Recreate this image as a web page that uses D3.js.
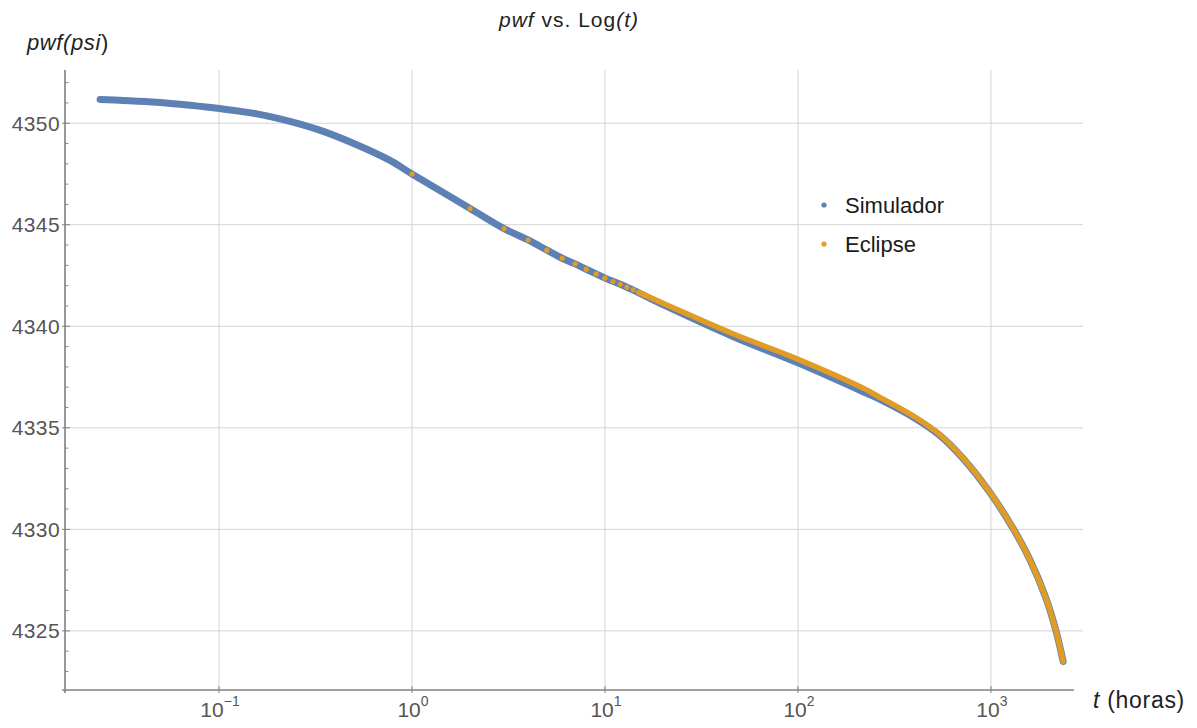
<!DOCTYPE html>
<html>
<head>
<meta charset="utf-8">
<script src="https://cdn.jsdelivr.net/npm/d3@7"></script>
<style>
  html, body { margin: 0; padding: 0; background: #fff; }
  svg { display: block; font-family: "Liberation Sans", Arial, sans-serif; }
</style>
</head>
<body>
<svg id="chart" width="1197" height="728"></svg>
<script>
// ---- data ----
const simT = [0.0242, 0.0319, 0.0476, 0.0708, 0.1004, 0.157, 0.233, 0.347, 0.517, 0.769,
              1, 2, 3, 4, 5, 6, 7, 8, 9, 10, 12, 14, 20.9, 46, 100, 227, 266, 396, 544, 718,
              1000, 1303, 1592, 1942, 2188, 2367];
const simP = [4351.17, 4351.12, 4351.03, 4350.88, 4350.72, 4350.46, 4350.09, 4349.60, 4348.94, 4348.17,
              4347.50, 4345.80, 4344.81, 4344.25, 4343.75, 4343.35, 4343.07, 4342.81, 4342.58, 4342.37, 4342.07, 4341.78, 4340.98, 4339.50, 4338.20, 4336.70, 4336.40, 4335.52, 4334.62, 4333.48,
              4331.74, 4330.04, 4328.50, 4326.53, 4324.89, 4323.49];

const eclDotT = [1, 2, 3, 4, 5, 6, 7, 8, 9, 10, 11, 12, 13, 14, 15, 16, 17, 18, 19];
const eclDotP = [4347.50, 4345.80, 4344.81, 4344.25, 4343.75, 4343.35, 4343.07, 4342.81, 4342.58, 4342.37,
                 4342.20, 4342.07, 4341.93, 4341.80, 4341.66, 4341.54, 4341.43, 4341.33, 4341.23];
const eclLineT = [15, 20.9, 46, 100, 227, 266, 396, 544, 718, 1000, 1303, 1592, 1942, 2188, 2367];
const eclLineP = [4341.66, 4341.05, 4339.63, 4338.38, 4336.87, 4336.50, 4335.58, 4334.66, 4333.50,
                  4331.75, 4330.05, 4328.50, 4326.53, 4324.89, 4323.50];

const xTickVals = [0.1, 1, 10, 100, 1000];
const xTickExp  = ["\u22121", "0", "1", "2", "3"];
const yTickVals = [4325, 4330, 4335, 4340, 4345, 4350];
const yMinorVals = d3.range(4323, 4353, 1);
const seriesNames = ["Simulador", "Eclipse"];
const seriesColors = ["#5E81B5", "#E19C24"];

// ---- layout ----
const svg = d3.select("#chart");
const pLeft = 65, pRight = 1083, pTop = 70, pBottom = 690;
const x = d3.scaleLog().domain([0.01592, 2999]).range([pLeft, pRight]);
const y = d3.scaleLinear().domain([4322.09, 4352.62]).range([pBottom, pTop]);

// gridlines
const grid = svg.append("g").attr("stroke", "#d3d3d3").attr("stroke-width", 1);
grid.selectAll("line.v").data(xTickVals).join("line")
  .attr("x1", d => x(d)).attr("x2", d => x(d)).attr("y1", pTop).attr("y2", pBottom);
grid.selectAll("line.h").data(yTickVals).join("line")
  .attr("x1", pLeft).attr("x2", pRight).attr("y1", d => y(d)).attr("y2", d => y(d));

// axes
const axCol = "#808080";
const ax = svg.append("g").attr("stroke", axCol);
ax.append("line").attr("x1", pLeft - 3).attr("x2", 1074).attr("y1", pBottom).attr("y2", pBottom).attr("stroke-width", 1.6);
ax.append("line").attr("x1", pLeft).attr("x2", pLeft).attr("y1", pTop).attr("y2", pBottom + 3).attr("stroke-width", 1.6);
ax.selectAll("line.xt").data(xTickVals).join("line")
  .attr("x1", d => x(d)).attr("x2", d => x(d)).attr("y1", pBottom - 4).attr("y2", pBottom + 3).attr("stroke-width", 1);
ax.selectAll("line.yt").data(yTickVals).join("line")
  .attr("x1", pLeft - 3).attr("x2", pLeft + 5).attr("y1", d => y(d)).attr("y2", d => y(d)).attr("stroke-width", 1);
ax.selectAll("line.ym").data(yMinorVals.filter(v => v % 5 !== 0)).join("line")
  .attr("x1", pLeft).attr("x2", pLeft + 3.5).attr("y1", d => y(d)).attr("y2", d => y(d)).attr("stroke-width", 0.9);

// tick labels
svg.append("g").selectAll("text").data(yTickVals).join("text")
  .attr("x", pLeft - 5).attr("y", d => y(d)).attr("dy", "0.36em")
  .attr("text-anchor", "end").attr("font-size", 21).attr("letter-spacing", 0.4).attr("fill", "#555")
  .text(d => d);
const xl = svg.append("g").selectAll("text").data(xTickVals).join("text")
  .attr("x", (d, i) => x(d) + 1).attr("y", 717)
  .attr("text-anchor", "middle").attr("font-size", 21).attr("fill", "#555");
xl.append("tspan").text("10");
xl.append("tspan").attr("dy", -11).attr("font-size", 14).text((d, i) => xTickExp[i]);

// axis labels and title
const yl = svg.append("text").attr("x", 27).attr("y", 50).attr("font-size", 22)
  .attr("letter-spacing", 0.6).attr("fill", "#222");
yl.append("tspan").attr("font-style", "italic").text("pwf(psi");
yl.append("tspan").text(")");

const xlab = svg.append("text").attr("x", 1093).attr("y", 708).attr("font-size", 23)
  .attr("letter-spacing", 0.7).attr("fill", "#222");
xlab.append("tspan").attr("font-style", "italic").text("t");
xlab.append("tspan").text(" (horas)");

const title = svg.append("text").attr("x", 569).attr("y", 27).attr("text-anchor", "middle")
  .attr("font-size", 21).attr("letter-spacing", 1).attr("fill", "#222");
title.append("tspan").attr("font-style", "italic").text("pwf");
title.append("tspan").text(" vs. Log");
title.append("tspan").attr("font-style", "italic").text("(t)");

// series
const line = d3.line().x(d => x(d[0])).y(d => y(d[1])).curve(d3.curveCatmullRom.alpha(0.5));
const simData = simT.map((t, i) => [t, simP[i]]);
svg.append("path").datum(simData).attr("d", line)
  .attr("fill", "none").attr("stroke", seriesColors[0]).attr("stroke-width", 7)
  .attr("stroke-linecap", "round").attr("stroke-linejoin", "round");

const eclLine = eclLineT.map((t, i) => [t, eclLineP[i]]);
svg.append("path").datum(eclLine).attr("d", line)
  .attr("fill", "none").attr("stroke", seriesColors[1]).attr("stroke-width", 5.5)
  .attr("stroke-linecap", "round").attr("stroke-linejoin", "round");

svg.append("g").selectAll("circle").data(eclDotT.map((t, i) => [t, eclDotP[i]])).join("circle")
  .attr("cx", d => x(d[0])).attr("cy", d => y(d[1])).attr("r", 2.6).attr("fill", seriesColors[1]);

// legend
const lg = svg.append("g");
const lgY = [205, 244];
lg.selectAll("circle").data(seriesNames).join("circle")
  .attr("cx", 824).attr("cy", (d, i) => lgY[i]).attr("r", 2.6).attr("fill", (d, i) => seriesColors[i]);
lg.selectAll("text").data(seriesNames).join("text")
  .attr("x", 845).attr("y", (d, i) => lgY[i]).attr("dy", "0.36em")
  .attr("font-size", 22).attr("fill", "#1a1a1a").text(d => d);
</script>
</body>
</html>
